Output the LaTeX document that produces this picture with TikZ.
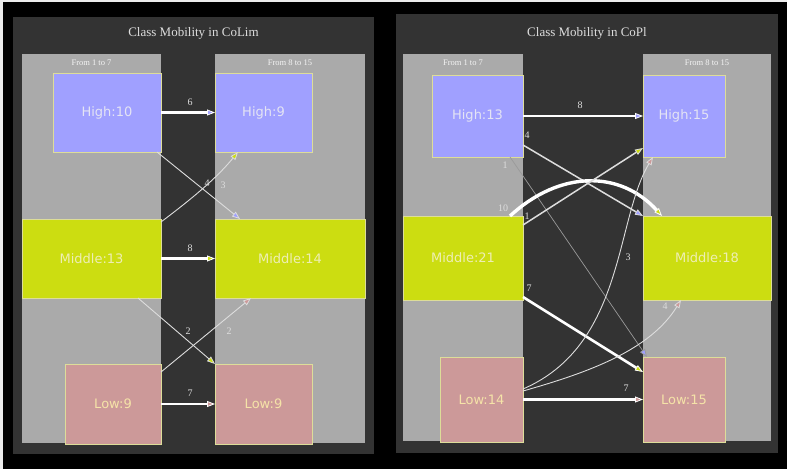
\documentclass[tikz,border=0pt]{standalone}
\usepackage{fontspec}
\setmainfont{Liberation Serif}
\newfontfamily\boxfont{DejaVu Sans}
\usetikzlibrary{arrows.meta,calc}
\definecolor{bgdark}{HTML}{333333}
\definecolor{clgray}{HTML}{AAAAAA}
\definecolor{hicol}{HTML}{A0A0FF}
\definecolor{midcol}{HTML}{CCDD11}
\definecolor{lowcol}{HTML}{CC9999}
\definecolor{bordcol}{HTML}{DDDD99}
\definecolor{hitext}{HTML}{E4E4F4}
\definecolor{midtext}{HTML}{EEEEB4}
\definecolor{lowtext}{HTML}{F5E3A8}
\definecolor{edgecol}{HTML}{DDDDDD}
\definecolor{dimedge}{HTML}{9A9A9A}
\begin{document}
\begin{tikzpicture}[x=1pt,y=-1pt,
  box/.style={draw=bordcol, line width=0.6pt, inner sep=0pt, outer sep=0pt,
    font=\boxfont\fontsize{13}{15}\selectfont},
  hibox/.style={box, fill=hicol, text=hitext},
  midbox/.style={box, fill=midcol, text=midtext},
  lowbox/.style={box, fill=lowcol, text=lowtext},
  titletext/.style={text=edgecol, font=\fontsize{13}{15}\selectfont},
  cllabel/.style={text=white!92!gray, font=\fontsize{8.5}{10}\selectfont, inner sep=0pt},
  elabel/.style={text=edgecol, font=\fontsize{10}{12}\selectfont, inner sep=0pt},
  thickedge/.style={draw=white, line width=2.6pt},
  heavyedge/.style={draw=white, line width=3.4pt},
  mededge/.style={draw=edgecol, line width=1.5pt},
  thinedge/.style={draw=edgecol, line width=0.9pt},
  grayedge/.style={draw=dimedge, line width=0.7pt},
  tiphi/.style={-{Triangle[length=8pt,width=6pt,line width=0.8pt,fill=hicol]}},
  tipmid/.style={-{Triangle[length=8pt,width=6pt,line width=0.8pt,fill=midcol]}},
  tiplow/.style={-{Triangle[length=8pt,width=6pt,line width=0.8pt,fill=lowcol]}}
]
\useasboundingbox (0,0) rectangle (787,469);
% background
\fill[black] (0,0) rectangle (787,469);
\fill[white!85!gray] (0,0) rectangle (787,1.5);
\fill[white!85!gray] (0,0) rectangle (2.5,469);

% ===== Left panel =====
\fill[bgdark] (13,17) rectangle (374,454);
\fill[clgray] (22,54) rectangle (161,443);
\fill[clgray] (215,54) rectangle (365,443);
\node[titletext] (t1) at (193.5,33) {Class Mobility in CoLim};
\node[cllabel] (c1a) at (91.5,63) {From 1 to 7};
\node[cllabel] (c1b) at (290,63) {From 8 to 15};

\node[hibox, minimum width=108pt, minimum height=79pt] (h10) at (107,112.5) {High:10};
\node[hibox, minimum width=97pt, minimum height=79pt] (h9) at (263.5,112.5) {High:9};
\node[midbox, minimum width=139pt, minimum height=79pt] (m13) at (91.5,258.5) {Middle:13};
\node[midbox, minimum width=150pt, minimum height=79pt] (m14) at (290,258.5) {Middle:14};
\node[lowbox, minimum width=96pt, minimum height=80pt] (l9a) at (113,404) {Low:9};
\node[lowbox, minimum width=97pt, minimum height=80pt] (l9b) at (263.5,404) {Low:9};

\draw[thickedge, tiphi] (h10.east) -- (h9.west);
\draw[thickedge, tipmid] (m13.east) -- (m14.west);
\draw[thickedge, tiplow] (l9a.east) -- (l9b.west);
\draw[thinedge, tiphi] ($(h10.south east)+(-4,0)$) -- ($(m14.north west)+(25,0)$);
\draw[thinedge, tipmid] ($(m13.north east)+(0,3)$) .. controls (190,200) and (215,180) .. ($(h9.south west)+(23,0)$);
\draw[thinedge, tipmid] ($(m13.south east)+(-23,0)$) -- (l9b.north west);
\draw[thinedge, tiplow] ($(l9a.north east)+(0,8)$) -- ($(m14.south west)+(36,0)$);

\node[elabel] (e6) at (190,102) {6};
\node[elabel] (e8) at (190,248) {8};
\node[elabel] (e7a) at (190,393) {7};
\node[elabel] (e3a) at (223,185) {3};
\node[elabel] (e4a) at (207,183) {4};
\node[elabel] (e2a) at (188,331) {2};
\node[elabel] (e2b) at (229,331) {2};

% ===== Right panel =====
\fill[bgdark] (396,14) rectangle (778,453);
\fill[clgray] (403,54) rectangle (523,441);
\fill[clgray] (643,54) rectangle (771,441);
\node[titletext] (t2) at (587,33) {Class Mobility in CoPl};
\node[cllabel] (c2a) at (463,63) {From 1 to 7};
\node[cllabel] (c2b) at (707,63) {From 8 to 15};

\node[hibox, minimum width=91pt, minimum height=82pt] (h13) at (477.5,116) {High:13};
\node[hibox, minimum width=82pt, minimum height=82pt] (h15) at (684,116) {High:15};
\node[midbox, minimum width=120pt, minimum height=84pt] (m21) at (463,258) {Middle:21};
\node[midbox, minimum width=128pt, minimum height=84pt] (m18) at (707,258) {Middle:18};
\node[lowbox, minimum width=83pt, minimum height=85pt] (l14) at (481.5,399.5) {Low:14};
\node[lowbox, minimum width=82pt, minimum height=85pt] (l15) at (684,399.5) {Low:15};

\draw[thickedge, tiphi] (h13.east) -- (h15.west);
\draw[mededge, tiphi] ($(h13.east)+(0,29)$) -- (m18.north west);
\draw[grayedge, tiphi] ($(h13.south west)+(78,0)$) -- ($(l15.north west)+(4,0)$);
\draw[heavyedge, tipmid] ($(m21.north east)+(-13,0)$) .. controls (560,170) and (620,170) .. ($(m18.north west)+(19,0)$);
\draw[mededge, tipmid] ($(m21.north east)+(0,9)$) -- ($(h15.south west)+(0,-9)$);
\draw[thickedge, tipmid] ($(m21.south east)+(0,-3)$) -- ($(l15.north west)+(0,15)$);
\draw[thinedge, tiplow] ($(l14.east)+(0,-10.5)$) .. controls (625,345) and (615,220) .. ($(h15.south west)+(10,0)$);
\draw[thinedge, tiplow] ($(l14.east)+(0,-8.5)$) .. controls (590,372) and (650,350) .. ($(m18.south west)+(38,0)$);
\draw[thickedge, tiplow] (l14.east) -- (l15.west);

\node[elabel] (f8) at (580,105) {8};
\node[elabel] (f4a) at (527,135) {4};
\node[elabel] (f1a) at (505,165) {1};
\node[elabel] (f10) at (503,208) {10};
\node[elabel] (f1b) at (527,216) {1};
\node[elabel] (f7a) at (529,288) {7};
\node[elabel] (f3) at (628,257) {3};
\node[elabel] (f4b) at (665,306) {4};
\node[elabel] (f7b) at (626,388) {7};
\end{tikzpicture}
\end{document}
